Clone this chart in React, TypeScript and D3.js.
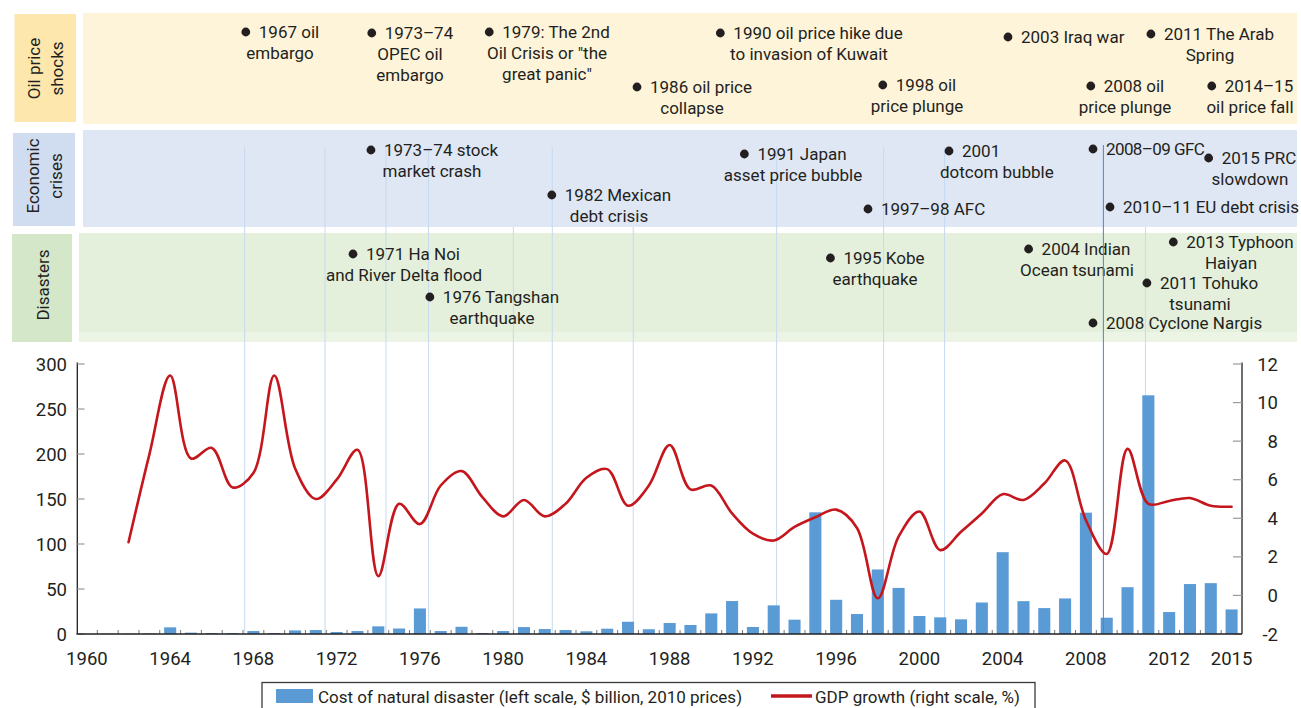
import React, { useEffect, useRef } from 'react';
import * as d3 from 'd3';

// ---------- DATA ----------
const YEARS = [
  1960, 1961, 1962, 1963, 1964, 1965, 1966, 1967, 1968, 1969,
  1970, 1971, 1972, 1973, 1974, 1975, 1976, 1977, 1978, 1979,
  1980, 1981, 1982, 1983, 1984, 1985, 1986, 1987, 1988, 1989,
  1990, 1991, 1992, 1993, 1994, 1995, 1996, 1997, 1998, 1999,
  2000, 2001, 2002, 2003, 2004, 2005, 2006, 2007, 2008, 2009,
  2010, 2011, 2012, 2013, 2014, 2015,
];

// Cost of natural disaster (left scale, $ billion, 2010 prices)
const DISASTER_COST = [
  0, 0.3, 0.3, 0.6, 7.4, 1.5, 1.1, 1.1, 3.3, 1.1,
  4.0, 4.4, 2.2, 3.3, 8.5, 6.1, 28.4, 3.3, 8.0, 1.1,
  3.3, 7.7, 5.5, 4.4, 3.0, 5.9, 13.6, 5.3, 12.2, 10.0,
  22.9, 36.6, 7.8, 31.8, 15.9, 135.2, 38.0, 22.2, 71.7, 51.2,
  20.0, 18.5, 16.3, 35.0, 90.9, 36.5, 28.8, 39.5, 134.8, 18.1,
  52.0, 265.2, 24.4, 55.5, 56.5, 27.3,
];

// GDP growth (right scale, %)
const GDP_GROWTH: (number | null)[] = [
  null, null, 2.76, 7.3, 11.4, 7.1, 7.65, 5.6, 6.35, 11.4,
  6.6, 5.0, 6.0, 7.55, 1.0, 4.75, 3.7, 5.7, 6.45, 5.1,
  4.1, 4.95, 4.1, 4.75, 6.1, 6.55, 4.65, 5.7, 7.8, 5.5,
  5.7, 4.25, 3.2, 2.85, 3.55, 4.05, 4.45, 3.5, -0.15, 3.05,
  4.35, 2.35, 3.3, 4.25, 5.25, 4.95, 5.8, 7.0, 3.9, 2.15,
  7.6, 4.75, 4.9, 5.05, 4.65, 4.6,
];

const X_TICK_LABELS = [1960, 1964, 1968, 1972, 1976, 1980, 1984, 1988, 1992, 1996, 2000, 2004, 2008, 2012, 2015];
const LEFT_TICKS = [0, 50, 100, 150, 200, 250, 300];
const RIGHT_TICKS = [-2, 0, 2, 4, 6, 8, 10, 12];

const LEGEND_BAR = 'Cost of natural disaster (left scale, $ billion, 2010 prices)';
const LEGEND_LINE = 'GDP growth (right scale, %)';

// Event marker lines (fractional year, band where they start, emphasis)
const EVENT_LINE_YEARS = [1967.58, 1971.44, 1974.37, 1976.41, 1980.49, 1982.36, 1986.25, 1993.14, 1998.28, 2001.21, 2008.84, 2010.86];
const EVENT_LINE_START = ['econ', 'econ', 'econ', 'econ', 'dis', 'econ', 'dis', 'econ', 'econ', 'econ', 'econ', 'dis'];
const EVENT_LINE_DARK = [false, false, false, false, false, false, false, false, false, false, true, false];

// Band labels
const BANDS = [
  { key: 'oil', label: ['Oil price', 'shocks'] },
  { key: 'econ', label: ['Economic', 'crises'] },
  { key: 'dis', label: ['Disasters'] },
];

// Annotation texts
const OIL_EVENTS = [
  ['1967 oil', 'embargo'],
  ['1973–74', 'OPEC oil', 'embargo'],
  ['1979: The 2nd', 'Oil Crisis or "the', 'great panic"'],
  ['1986 oil price', 'collapse'],
  ['1990 oil price hike due', 'to invasion of Kuwait'],
  ['1998 oil', 'price plunge'],
  ['2003 Iraq war'],
  ['2011  The Arab', 'Spring'],
  ['2008 oil', 'price plunge'],
  ['2014–15', 'oil price fall'],
];
const ECON_EVENTS = [
  ['1973–74 stock', 'market crash'],
  ['1982 Mexican', 'debt crisis'],
  ['1991 Japan', 'asset price bubble'],
  ['1997–98 AFC'],
  ['2001', 'dotcom bubble'],
  ['2008–09 GFC'],
  ['2015 PRC', 'slowdown'],
  ['2010–11 EU debt crisis'],
];
const DISASTER_EVENTS = [
  ['1971 Ha Noi', 'and River Delta flood'],
  ['1976 Tangshan', 'earthquake'],
  ['1995 Kobe', 'earthquake'],
  ['2004 Indian', 'Ocean tsunami'],
  ['2013 Typhoon', 'Haiyan'],
  ['2011 Tohuko', 'tsunami'],
  ['2008 Cyclone Nargis'],
];

// ---------- LAYOUT ----------
const W = 1301;
const H = 708;
const FONT = "Roboto, 'Noto Sans', sans-serif";
const TEXT_COLOR = '#231f20';
const BAR_COLOR = '#5b9bd5';
const LINE_COLOR = '#c4161c';

const PLOT = { x0: 76.5, x1: 1242, top: 364, base: 634 };

const BAND_LAYOUT: Record<string, any> = {
  oil: { box: [14.5, 14, 61.5, 108], panel: [83, 13, 1214, 111], boxFill: '#fde7ad', panelFill: '#fef4da', cy: 68.5, baselines: [40, 63] },
  econ: { box: [13, 133, 62, 93], panel: [83, 130, 1214, 97], boxFill: '#d0dcef', panelFill: '#dfe6f4', cy: 176, baselines: [39, 62] },
  dis: { box: [12, 234, 60, 108], panel: [79, 233, 1218, 109], boxFill: '#d5e7c9', panelFill: '#e4f0dc', cy: 285, baselines: [49] },
};
const LINE_START_Y: Record<string, number> = { econ: 147, dis: 227 };

// annotation placement: [centre x or bullet x, first-line middle y, anchor, letter-spacing]
const OIL_POS: [number, number, string, number][] = [
  [280, 32, 'middle', 0], [410, 33, 'middle', 0], [547, 32, 'middle', 0], [692, 87, 'middle', 0],
  [809, 33, 'middle', 0], [917, 85, 'middle', 0], [1008, 37, 'start', 0], [1210, 34, 'middle', 0],
  [1125, 86, 'middle', 0], [1250, 86, 'middle', 0],
];
const ECON_POS: [number, number, string, number][] = [
  [432, 150, 'middle', 0], [609, 195, 'middle', 0], [793, 154, 'middle', 0], [868, 209, 'start', 0],
  [949, 151, 'start', 0], [1093, 149, 'start', -0.6], [1250, 158, 'middle', 0], [1110, 207, 'start', 0],
];
const DIS_POS: [number, number, string, number][] = [
  [404, 254, 'middle', 0], [492, 297, 'middle', 0], [875, 258, 'middle', 0], [1077, 249, 'middle', 0],
  [1231, 242, 'middle', 0], [1200, 283, 'middle', 0], [1093, 323, 'start', 0],
];

export default function App() {
  const ref = useRef<SVGSVGElement>(null);

  useEffect(() => {
    document.body.style.margin = '0';
    const svg = d3.select(ref.current as SVGSVGElement);
    svg.selectAll('*').remove();
    svg.attr('font-family', FONT);

    const xBand = d3.scaleBand<number>().domain(YEARS).range([PLOT.x0, PLOT.x1]).paddingInner(0.42).paddingOuter(0.21);
    const xLin = d3.scaleLinear().domain([YEARS[0] - 0.5, YEARS[YEARS.length - 1] + 0.5]).range([PLOT.x0, PLOT.x1]);
    const yL = d3.scaleLinear().domain([0, 300]).range([PLOT.base, PLOT.top]);
    const yR = d3.scaleLinear().domain([-2, 12]).range([PLOT.base, PLOT.top]);

    svg.append('rect').attr('width', W).attr('height', H).attr('fill', '#ffffff');

    // ---- bands ----
    BANDS.forEach((b) => {
      const L = BAND_LAYOUT[b.key];
      svg.append('rect').attr('x', L.panel[0]).attr('y', L.panel[1]).attr('width', L.panel[2]).attr('height', L.panel[3]).attr('fill', L.panelFill);
      if (b.key === 'dis') {
        svg.append('rect').attr('x', L.panel[0]).attr('y', L.panel[1] + L.panel[3] - 10).attr('width', L.panel[2]).attr('height', 10).attr('fill', '#ebf4e5');
      }
      svg.append('rect').attr('x', L.box[0]).attr('y', L.box[1]).attr('width', L.box[2]).attr('height', L.box[3]).attr('fill', L.boxFill);
      const g = svg.append('g').attr('transform', `translate(0,${L.cy})`);
      b.label.forEach((t, i) => {
        g.append('text')
          .attr('transform', `translate(${L.baselines[i]},0) rotate(-90)`)
          .attr('text-anchor', 'middle')
          .attr('font-size', 17)
          .attr('fill', TEXT_COLOR)
          .text(t);
      });
    });

    // ---- event lines (light, behind bars) ----
    const evG = svg.append('g');
    EVENT_LINE_YEARS.forEach((yr, i) => {
      if (EVENT_LINE_DARK[i]) return;
      evG.append('line')
        .attr('x1', xLin(yr)).attr('x2', xLin(yr))
        .attr('y1', LINE_START_Y[EVENT_LINE_START[i]]).attr('y2', PLOT.base)
        .attr('stroke', '#c6daf0').attr('stroke-width', 1);
    });

    // ---- annotations ----
    const drawAnn = (items: string[][], pos: [number, number, string, number][]) => {
      items.forEach((lines, k) => {
        const [px, py, anchor, ls] = pos[k];
        const g = svg.append('g').attr('font-size', 17).attr('fill', TEXT_COLOR).attr('letter-spacing', ls);
        const lh = 21;
        if (anchor === 'middle') {
          const t = g.append('text').attr('x', px + 9).attr('y', py + 6).attr('text-anchor', 'middle').text(lines[0]);
          const w = (t.node() as SVGTextElement).getComputedTextLength();
          g.append('circle').attr('cx', px + 9 - w / 2 - 13).attr('cy', py).attr('r', 4.4).attr('fill', TEXT_COLOR);
          lines.slice(1).forEach((l, i) => {
            g.append('text').attr('x', px).attr('y', py + 6 + lh * (i + 1)).attr('text-anchor', 'middle').text(l);
          });
        } else {
          g.append('circle').attr('cx', px).attr('cy', py).attr('r', 4.4).attr('fill', TEXT_COLOR);
          g.append('text').attr('x', px + 13).attr('y', py + 6).text(lines[0]);
          lines.slice(1).forEach((l, i) => {
            g.append('text').attr('x', px - 9).attr('y', py + 6 + lh * (i + 1)).text(l);
          });
        }
      });
    };
    drawAnn(OIL_EVENTS, OIL_POS);
    drawAnn(ECON_EVENTS, ECON_POS);
    drawAnn(DISASTER_EVENTS, DIS_POS);

    // ---- bars ----
    svg.append('g').selectAll('rect').data(YEARS).join('rect')
      .attr('x', (d) => xBand(d) as number)
      .attr('width', xBand.bandwidth())
      .attr('y', (d, i) => yL(DISASTER_COST[i]))
      .attr('height', (d, i) => PLOT.base - yL(DISASTER_COST[i]))
      .attr('fill', BAR_COLOR);

    // dark event line over bars
    EVENT_LINE_YEARS.forEach((yr, i) => {
      if (!EVENT_LINE_DARK[i]) return;
      svg.append('line')
        .attr('x1', xLin(yr)).attr('x2', xLin(yr))
        .attr('y1', 145).attr('y2', PLOT.base)
        .attr('stroke', '#4a86c8').attr('stroke-width', 1);
    });

    // ---- axes ----
    const ax = svg.append('g').attr('fill', TEXT_COLOR);
    YEARS.slice(0, -1).forEach((yr) => {
      ax.append('line').attr('x1', xLin(yr + 0.5)).attr('x2', xLin(yr + 0.5)).attr('y1', PLOT.base).attr('y2', PLOT.base - 4)
        .attr('stroke', '#777').attr('stroke-width', 1);
    });
    X_TICK_LABELS.forEach((yr) => {
      ax.append('text').attr('x', (xBand(yr) as number) + xBand.bandwidth() / 2).attr('y', 664.5)
        .attr('text-anchor', 'middle').attr('font-size', 18.5).text(String(yr));
    });
    // left axis
    ax.append('line').attr('x1', 77.3).attr('x2', 77.3).attr('y1', yL(300) - 1.5).attr('y2', PLOT.base).attr('stroke', '#231f20').attr('stroke-width', 1.3);
    LEFT_TICKS.forEach((v) => {
      ax.append('line').attr('x1', 77.3).attr('x2', 84.5).attr('y1', yL(v)).attr('y2', yL(v)).attr('stroke', '#999').attr('stroke-width', 1.2);
      ax.append('text').attr('x', 67).attr('y', yL(v) + 6.5).attr('text-anchor', 'end').attr('font-size', 18.5).text(String(v));
    });
    // right axis
    ax.append('line').attr('x1', PLOT.x1).attr('x2', PLOT.x1).attr('y1', yR(12) - 1.5).attr('y2', PLOT.base).attr('stroke', '#231f20').attr('stroke-width', 1.3);
    RIGHT_TICKS.forEach((v) => {
      ax.append('line').attr('x1', PLOT.x1 - 9).attr('x2', PLOT.x1).attr('y1', yR(v)).attr('y2', yR(v)).attr('stroke', '#999').attr('stroke-width', 1.2);
      ax.append('text').attr('x', 1278).attr('y', yR(v) + 6.5).attr('text-anchor', 'end').attr('font-size', 18.5).text(String(v));
    });
    // baseline
    ax.append('line').attr('x1', PLOT.x0).attr('x2', PLOT.x1).attr('y1', PLOT.base).attr('y2', PLOT.base).attr('stroke', '#231f20').attr('stroke-width', 1.5);

    // ---- GDP line ----
    const line = d3.line<number>()
      .defined((d, i) => GDP_GROWTH[i] !== null)
      .x((d) => (xBand(d) as number) + xBand.bandwidth() / 2)
      .y((d, i) => yR(GDP_GROWTH[i] as number))
      .curve(d3.curveCatmullRom.alpha(0.5));
    svg.append('path').attr('d', line(YEARS) as string).attr('fill', 'none').attr('stroke', LINE_COLOR).attr('stroke-width', 2.6)
      .attr('stroke-linejoin', 'round').attr('stroke-linecap', 'round');

    // ---- legend ----
    const lg = svg.append('g').attr('font-size', 17).attr('fill', TEXT_COLOR);
    lg.append('rect').attr('x', 262).attr('y', 682.5).attr('width', 773).attr('height', 40).attr('fill', '#fff').attr('stroke', '#3a3a3a').attr('stroke-width', 1.3);
    lg.append('rect').attr('x', 276).attr('y', 689).attr('width', 37).attr('height', 14).attr('fill', BAR_COLOR);
    lg.append('text').attr('x', 318).attr('y', 702.5).text(LEGEND_BAR);
    lg.append('line').attr('x1', 771).attr('x2', 812).attr('y1', 696).attr('y2', 696).attr('stroke', LINE_COLOR).attr('stroke-width', 3.5);
    lg.append('text').attr('x', 815).attr('y', 702.5).text(LEGEND_LINE);
  }, []);

  return <svg ref={ref} width={W} height={H} style={{ display: 'block' }} />;
}
